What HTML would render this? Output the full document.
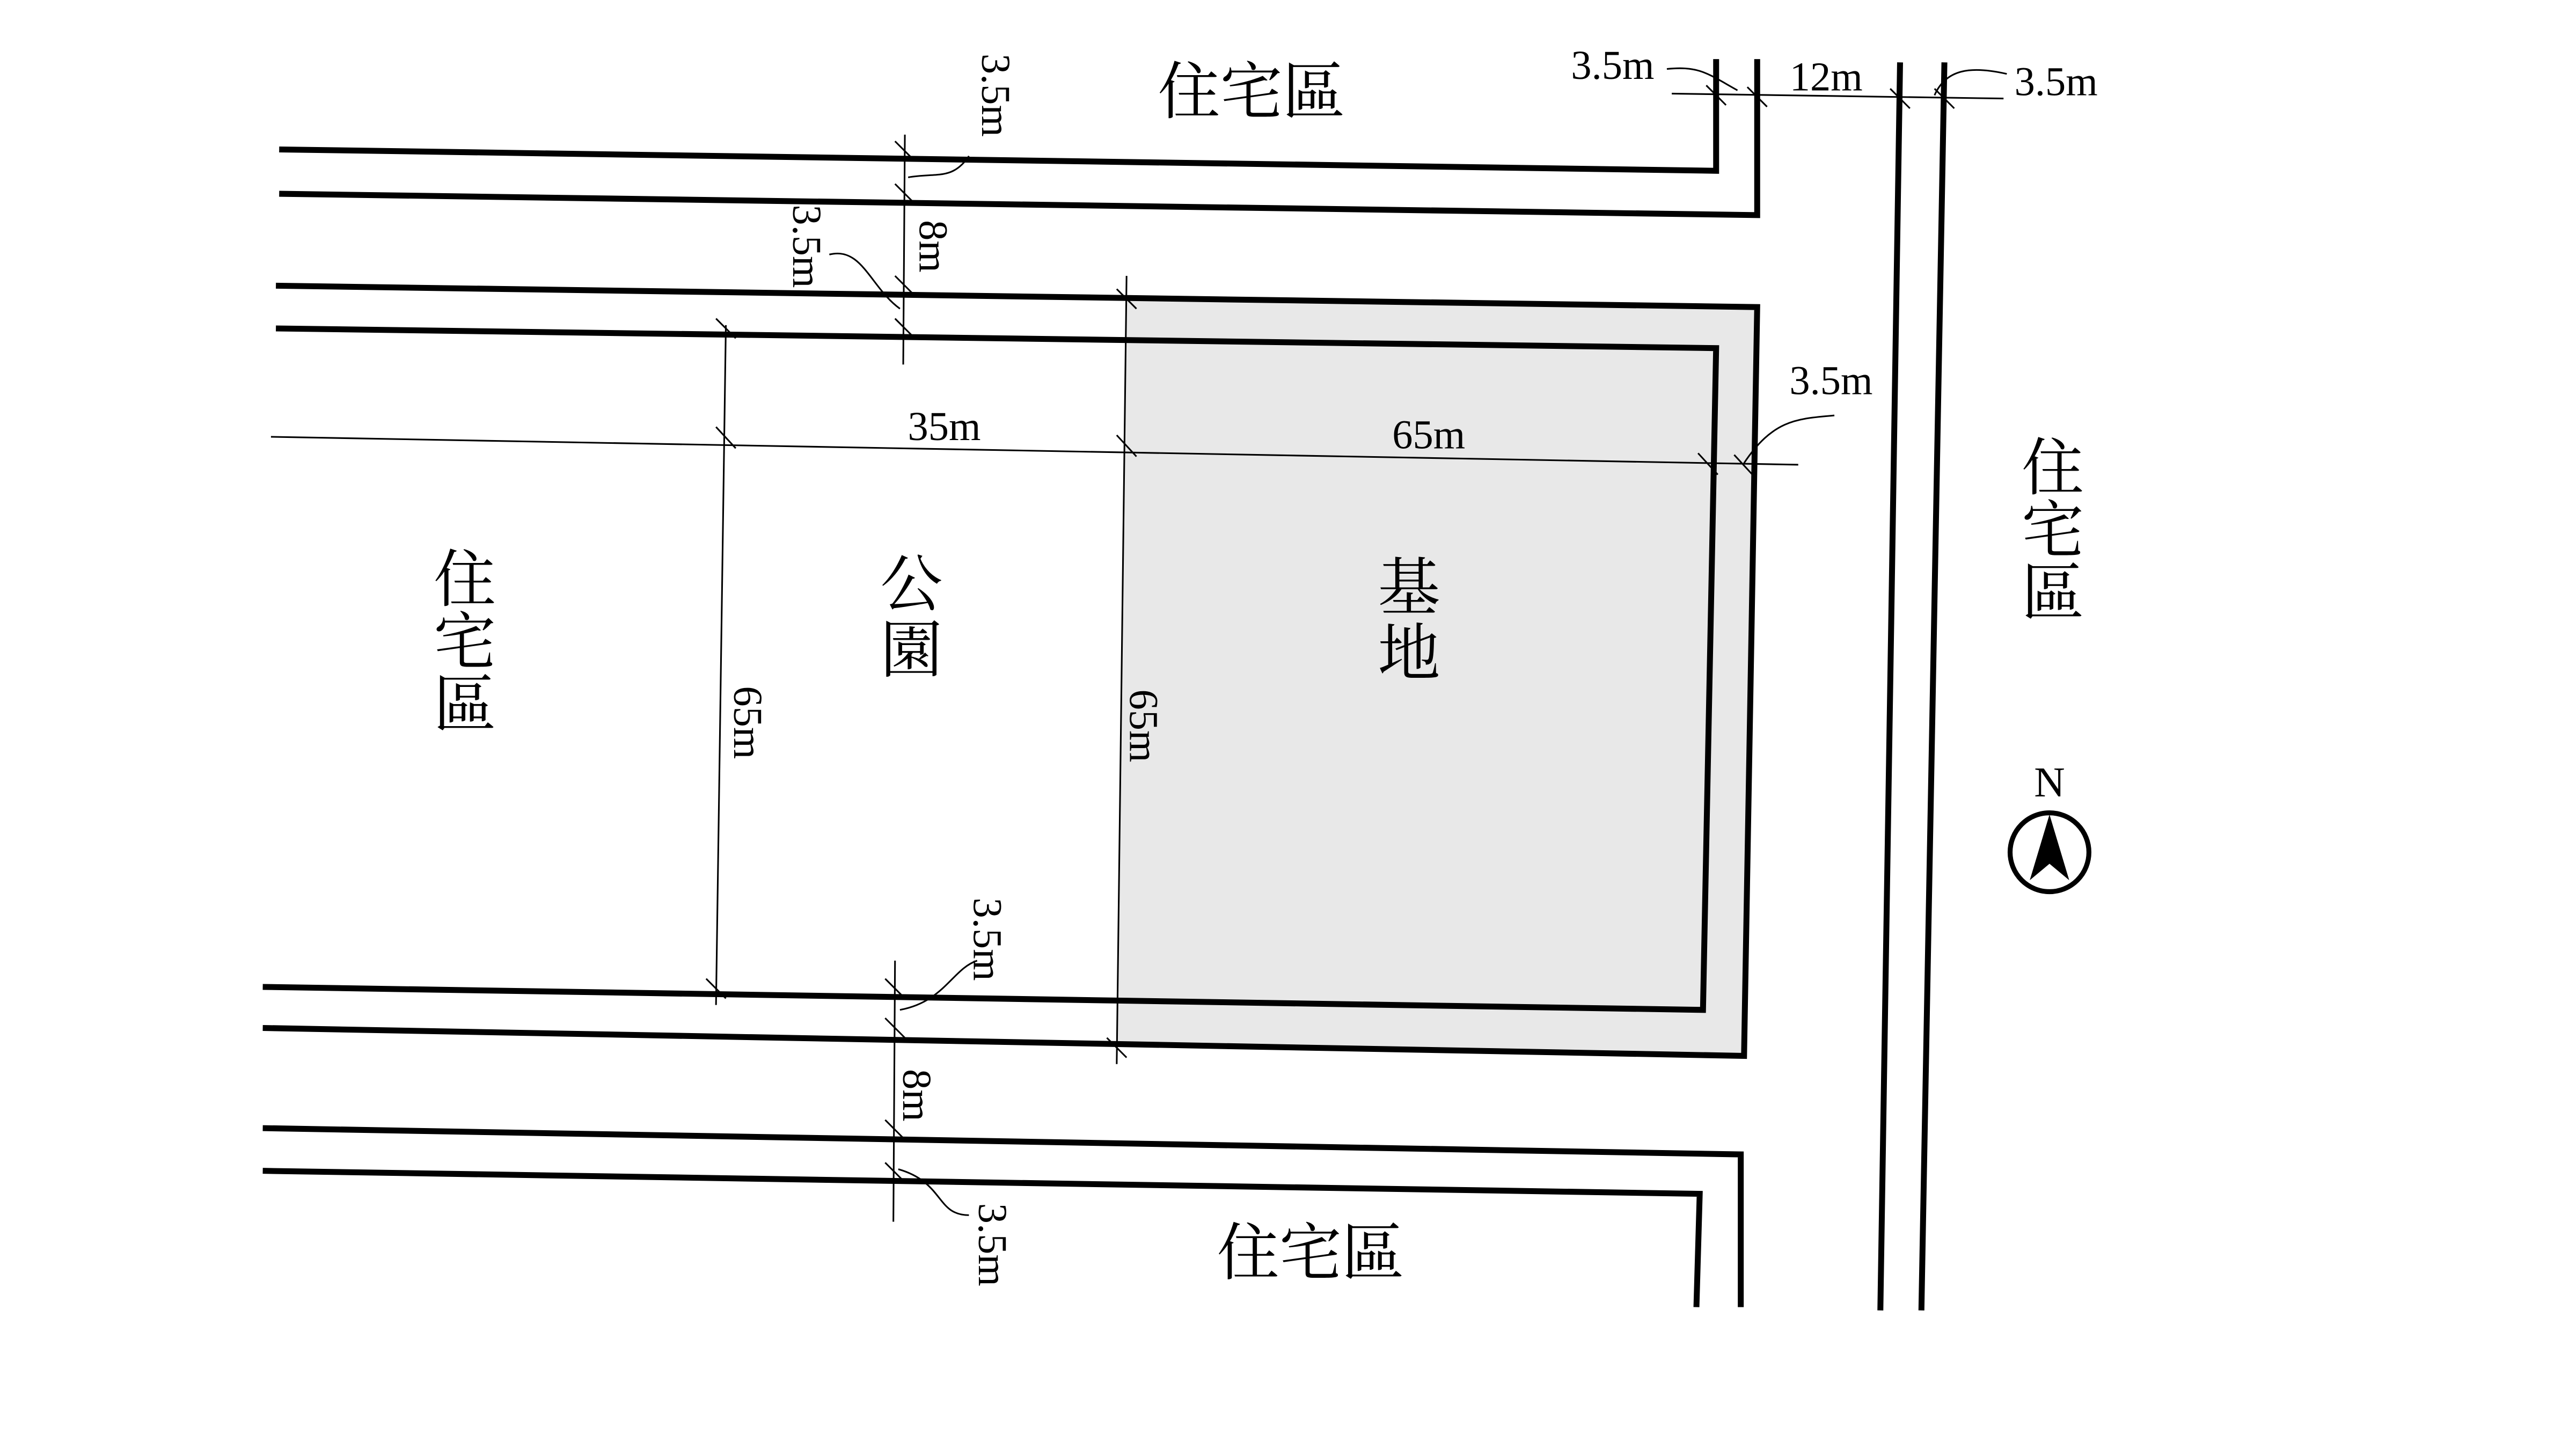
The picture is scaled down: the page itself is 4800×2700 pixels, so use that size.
<!DOCTYPE html>
<html><head><meta charset="utf-8"><style>html,body{margin:0;padding:0;background:#fff}svg{display:block}</style></head>
<body>
<svg width="4800" height="2700" viewBox="0 0 1568.6 882.4" preserveAspectRatio="none" xmlns="http://www.w3.org/2000/svg">
<rect width="1600" height="900" fill="#fff"/>
<polygon points="686,183 1070,187 1062,643 680,637" fill="#e8e8e8"/>
<g fill="none" stroke="#000" stroke-width="3.6">
<polyline points="170,91 1045,104 1045,36"/>
<polyline points="170,118 1070,131 1070,36"/>
<polyline points="168,174 1070,187 1062,643 160,626"/>
<polyline points="168,200 1045,212 1037,615 160,601"/>
<polyline points="160,687 1060,703 1060,796"/>
<polyline points="160,713 1035,727 1033,796"/>
<line x1="1157" y1="38" x2="1145" y2="798"/>
<line x1="1184" y1="38" x2="1170" y2="798"/>
</g>
<g fill="none" stroke="#000" stroke-width="1">
<line x1="165" y1="266" x2="1095" y2="283"/>
<line x1="442" y1="198" x2="436" y2="612"/>
<line x1="686" y1="168" x2="680" y2="648"/>
<line x1="551" y1="82" x2="550" y2="222"/>
<line x1="545" y1="585" x2="544" y2="744"/>
<line x1="1018" y1="57" x2="1220" y2="60"/>
<line x1="436" y1="260" x2="448" y2="273"/><line x1="680" y1="265" x2="692" y2="278"/>
<line x1="1034" y1="276" x2="1046" y2="289"/><line x1="1056" y1="277" x2="1068" y2="290"/>
<line x1="436" y1="194" x2="448" y2="206"/><line x1="430" y1="596" x2="442" y2="608"/>
<line x1="680" y1="176" x2="692" y2="188"/><line x1="674" y1="632" x2="686" y2="644"/>
<line x1="545" y1="86" x2="557" y2="98"/><line x1="545" y1="112" x2="557" y2="124"/>
<line x1="545" y1="168" x2="557" y2="180"/><line x1="545" y1="194" x2="557" y2="206"/>
<line x1="539" y1="596" x2="551" y2="608"/><line x1="539" y1="620" x2="551" y2="632"/>
<line x1="539" y1="682" x2="551" y2="694"/><line x1="539" y1="708" x2="551" y2="720"/>
<line x1="1039" y1="52" x2="1051" y2="64"/><line x1="1064" y1="53" x2="1076" y2="65"/>
<line x1="1151" y1="54" x2="1163" y2="66"/><line x1="1178" y1="54" x2="1190" y2="66"/>
<path d="M590,95 C580,110 570,105 553,108"/>
<path d="M505,155 C525,150 530,175 548,188"/>
<path d="M595,585 C580,590 575,610 548,615"/>
<path d="M590,740 C570,740 575,720 547,712"/>
<path d="M1015,42 C1035,40 1040,45 1058,55"/>
<path d="M1222,45 C1200,40 1185,42 1178,58"/>
<path d="M1117,253 C1095,255 1080,255 1062,282"/>
</g>
<g font-family="'Liberation Serif',serif" font-size="25" fill="#000">
<text x="575" y="268" text-anchor="middle">35m</text>
<text x="870" y="273" text-anchor="middle">65m</text>
<text x="982" y="48" text-anchor="middle">3.5m</text>
<text x="1112" y="55" text-anchor="middle">12m</text>
<text x="1252" y="58" text-anchor="middle">3.5m</text>
<text x="1115" y="240" text-anchor="middle">3.5m</text>
<text transform="translate(447,440) rotate(90)" text-anchor="middle">65m</text>
<text transform="translate(688,442) rotate(90)" text-anchor="middle">65m</text>
<text transform="translate(598,58) rotate(90)" text-anchor="middle">3.5m</text>
<text transform="translate(560,150) rotate(90)" text-anchor="middle">8m</text>
<text transform="translate(483,150) rotate(90)" text-anchor="middle">3.5m</text>
<text transform="translate(593,572) rotate(90)" text-anchor="middle">3.5m</text>
<text transform="translate(550,667) rotate(90)" text-anchor="middle">8m</text>
<text transform="translate(596,758) rotate(90)" text-anchor="middle">3.5m</text>
<text x="1248" y="485" text-anchor="middle" font-size="26">N</text>
</g>
<g font-family="'Liberation Serif','Noto Serif CJK SC','Noto Sans CJK TC',serif" font-size="38" fill="#000" text-anchor="middle">
<text x="762" y="69">住宅區</text>
<text x="798" y="776">住宅區</text>
<text x="283" y="366">住</text><text x="283" y="404">宅</text><text x="283" y="442">區</text>
<text x="555" y="369">公</text><text x="555" y="409">園</text>
<text x="858" y="371">基</text><text x="858" y="411">地</text>
<text x="1250" y="298">住</text><text x="1250" y="336">宅</text><text x="1250" y="374">區</text>
</g>
<circle cx="1248" cy="519" r="24" fill="none" stroke="#000" stroke-width="3"/>
<polygon points="1248,496 1236,536 1248,526 1260,536" fill="#000"/>
</svg>
</body></html>
